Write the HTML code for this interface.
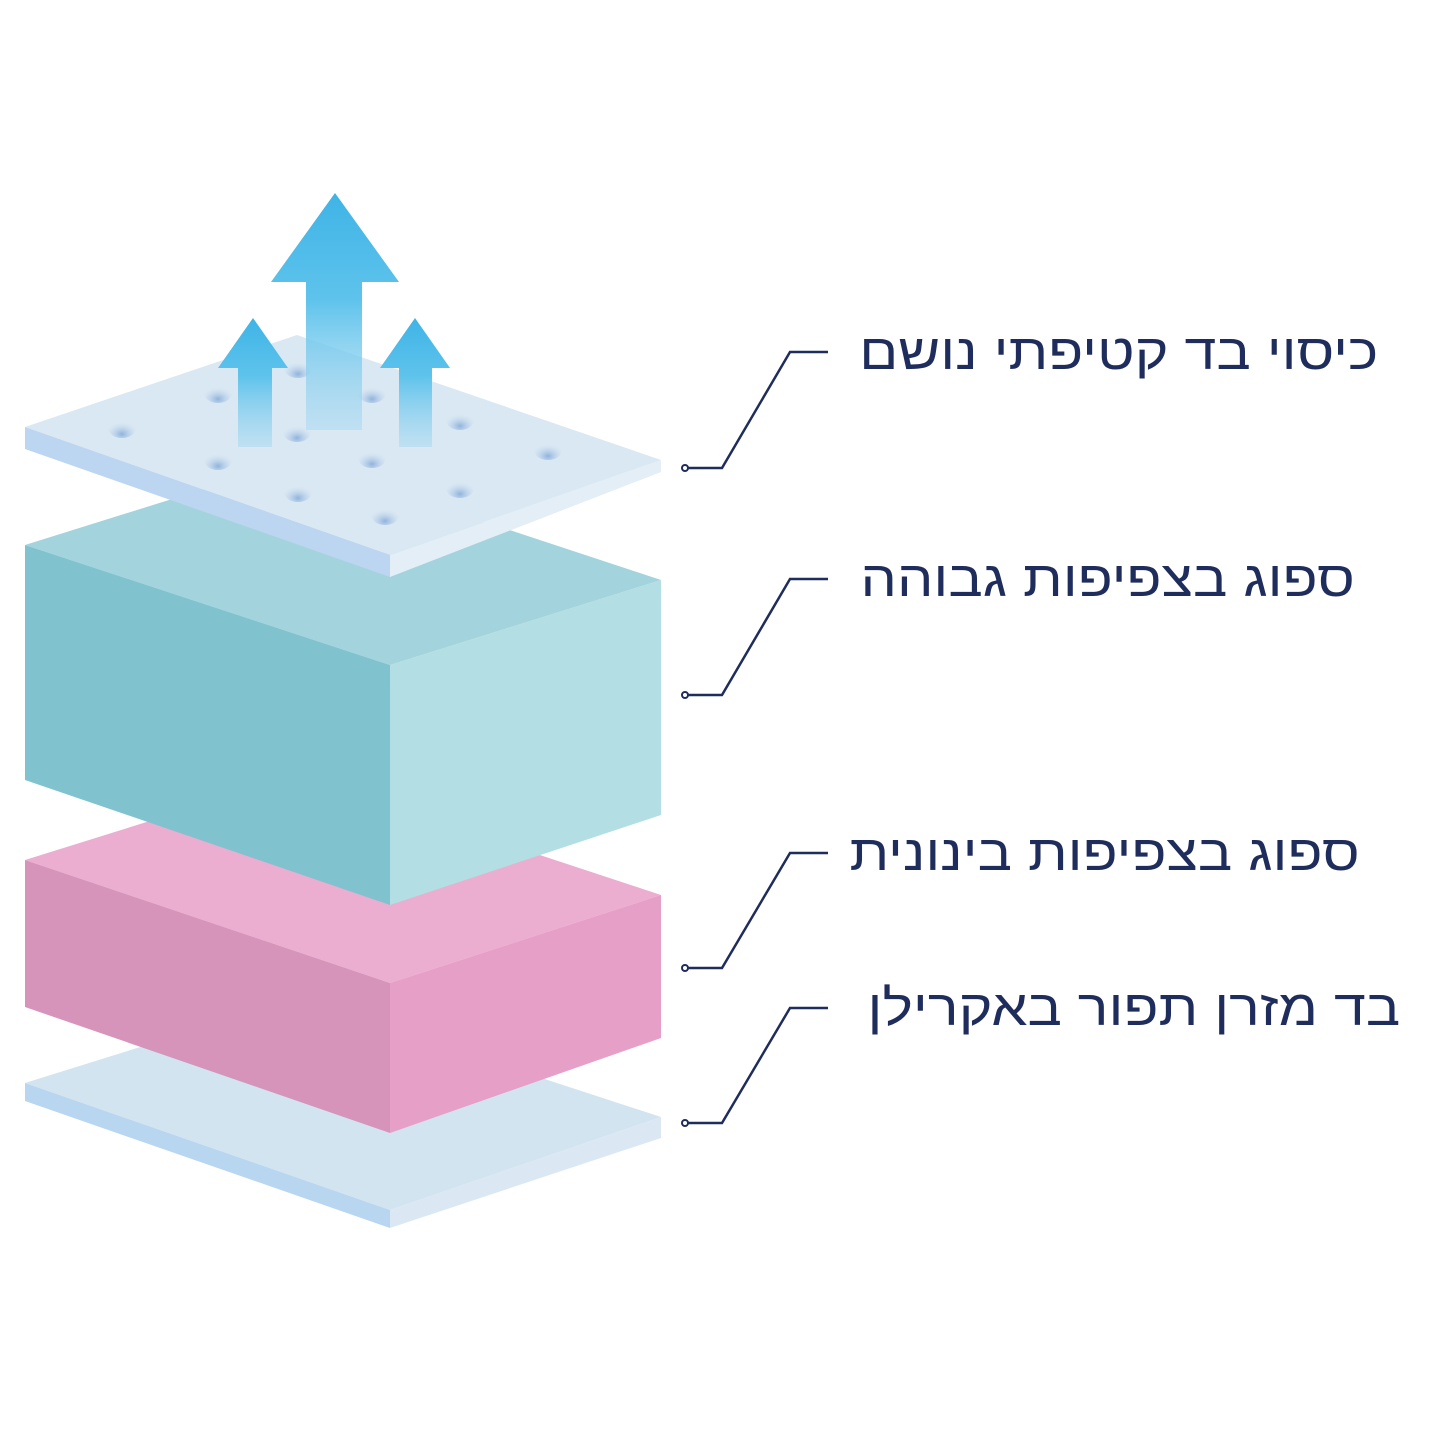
<!DOCTYPE html>
<html><head><meta charset="utf-8"><style>
html,body{margin:0;padding:0;background:#fff;width:1445px;height:1445px;overflow:hidden;position:relative}
.t{position:absolute;font-family:"Liberation Sans","DejaVu Sans",sans-serif;font-size:50px;color:#1f2d5c;direction:rtl;white-space:nowrap;line-height:1;transform:scaleX(1.15);transform-origin:right center}
</style></head><body>
<svg width="1445" height="1445" style="position:absolute;left:0;top:0">
<defs>
<linearGradient id="ag" x1="0" y1="0" x2="0" y2="1">
<stop offset="0" stop-color="#3fb4e6"/><stop offset="0.45" stop-color="#5ec3ec"/><stop offset="1" stop-color="#9fd6f0" stop-opacity="0.45"/>
</linearGradient>
<radialGradient id="dg" cx="0.5" cy="0.8" r="0.6"><stop offset="0" stop-color="#8fb2dc"/><stop offset="1" stop-color="#c9ddef" stop-opacity="0"/></radialGradient>
</defs>
<polygon points="25,1083 297,998 661,1117 390,1210" fill="#d2e4f0"/>
<polygon points="25,1083 390,1210 390,1228 25,1101" fill="#b9d6f0"/>
<polygon points="390,1210 661,1117 661,1138 390,1228" fill="#dbe8f4"/>
<polygon points="25,860 297,775 661,895 390,983" fill="#ebadd0"/>
<polygon points="25,860 390,983 390,1133 25,1007" fill="#d694bb"/>
<polygon points="390,983 661,895 661,1038 390,1133" fill="#e69fc6"/>
<polygon points="25,545 297,460 661,580 390,665" fill="#a3d3dc"/>
<polygon points="25,545 390,665 390,905 25,780" fill="#80c3cf"/>
<polygon points="390,665 661,580 661,815 390,905" fill="#b3dee4"/>
<polygon points="25,427 297,335 661,460 390,555" fill="#dae8f3"/>
<polygon points="25,427 390,555 390,577 25,449" fill="#bcd5f0"/>
<polygon points="390,555 661,460 661,472 390,577" fill="#e3eef7"/>
<g fill="url(#dg)">
<ellipse cx="122" cy="428" rx="14" ry="10"/><ellipse cx="218" cy="393" rx="14" ry="10"/><ellipse cx="298" cy="368" rx="14" ry="10"/>
<ellipse cx="372" cy="393" rx="14" ry="10"/><ellipse cx="460" cy="420" rx="14" ry="10"/><ellipse cx="548" cy="450" rx="14" ry="10"/>
<ellipse cx="297" cy="432" rx="14" ry="10"/><ellipse cx="218" cy="460" rx="14" ry="10"/><ellipse cx="372" cy="458" rx="14" ry="10"/>
<ellipse cx="298" cy="492" rx="14" ry="10"/><ellipse cx="460" cy="488" rx="14" ry="10"/><ellipse cx="385" cy="515" rx="14" ry="10"/>
</g>
<polygon points="335,193 399,282 362,282 362,430 306,430 306,282 271,282" fill="url(#ag)"/>
<polygon points="253,318 288,368 272,368 272,447 238,447 238,368 218,368" fill="url(#ag)"/>
<polygon points="415,318 450,368 432,368 432,447 399,447 399,368 380,368" fill="url(#ag)"/>
<g stroke="#1f2d5c" stroke-width="2.5" fill="none">
<polyline points="688,468 722,468 790,352 828,352"/>
<polyline points="688,695 722,695 790,579 828,579"/>
<polyline points="688,968 722,968 790,853 828,853"/>
<polyline points="688,1123 722,1123 790,1008 828,1008"/>
</g>
<g stroke="#1f2d5c" stroke-width="2" fill="#fff">
<circle cx="685" cy="468" r="3"/><circle cx="685" cy="695" r="3"/><circle cx="685" cy="968" r="3"/><circle cx="685" cy="1123" r="3"/>
</g>
</svg>
<div class="t" style="right:67px;top:327px">כיסוי בד קטיפתי נושם</div>
<div class="t" style="right:90px;top:554px">ספוג בצפיפות גבוהה</div>
<div class="t" style="right:85px;top:828px">ספוג בצפיפות בינונית</div>
<div class="t" style="right:45px;top:983px">בד מזרן תפור באקרילן</div>
</body></html>
